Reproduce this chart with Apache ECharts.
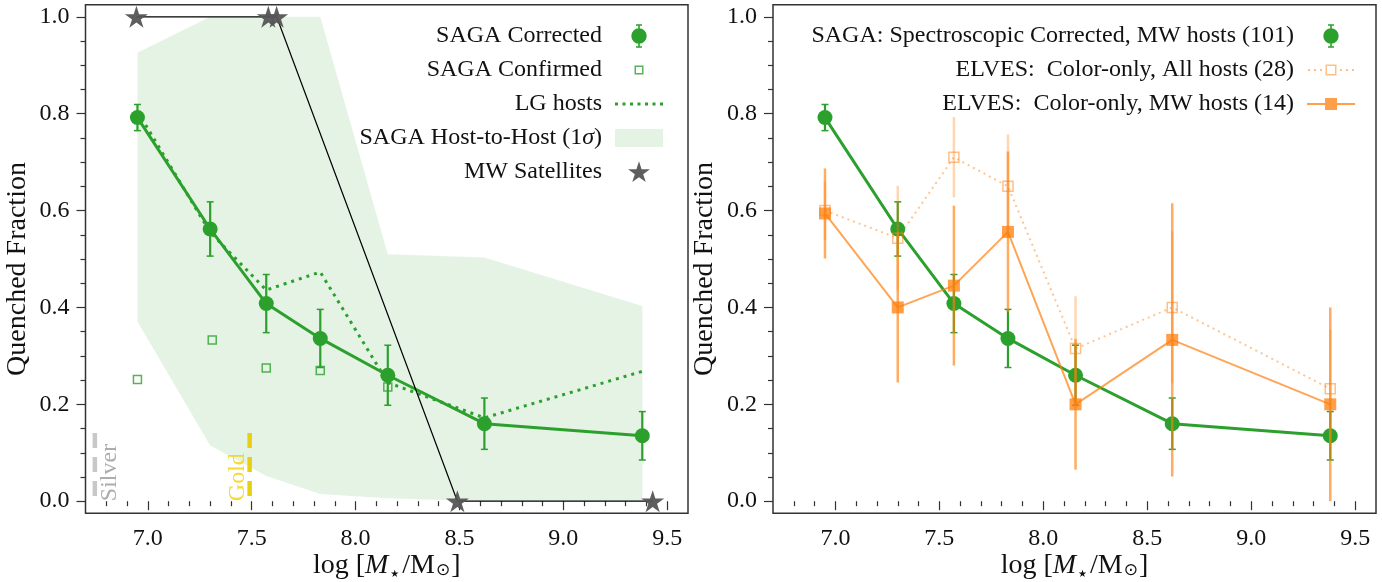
<!DOCTYPE html>
<html><head><meta charset="utf-8">
<script src="https://cdn.jsdelivr.net/npm/echarts@6/dist/echarts.min.js"></script>
<style>html,body{margin:0;padding:0;background:#fff;}#c{width:1382px;height:582px;}</style>
</head><body><div id="c"></div>
<script>
// ---------------- data ----------------
const massBins = [6.95, 7.30, 7.57, 7.83, 8.155, 8.62, 9.38];
const sagaCorrected = [0.792, 0.562, 0.408, 0.336, 0.260, 0.160, 0.135];
const sagaCorrectedErr = [0.027, 0.056, 0.060, 0.060, 0.062, 0.053, 0.050];
const sagaConfirmedX = [6.95, 7.31, 7.57, 7.83, 8.155];
const sagaConfirmed = [0.251, 0.333, 0.275, 0.270, 0.236];
const lgHosts = [0.805, 0.555, 0.436, 0.473, 0.245, 0.172, 0.268];
const bandUpper = [0.926, 1.0, 1.0, 1.0, 0.510, 0.503, 0.403];
const bandLower = [0.371, 0.115, 0.052, 0.015, 0.006, 0.0, 0.0];
const mwSatX = [6.945, 7.58, 7.62, 8.49, 9.43];
const mwSatY = [1, 1, 1, 0, 0];
const elvesAll = [0.600, 0.543, 0.710, 0.650, 0.315, 0.400, 0.232];
const elvesAllErr = [0.060, 0.108, 0.083, 0.107, 0.108, 0.157, 0.122];
const elvesMW = [0.594, 0.400, 0.445, 0.556, 0.200, 0.333, 0.200];
const elvesMWErr = [0.093, 0.155, 0.165, 0.166, 0.135, 0.282, 0.200];
const silverLimitX = 6.745, goldLimitX = 7.49, limitTop = 0.141;
const silverLabelX = 6.818, goldLabelX = 7.434;
const xTicks = [7.0, 7.5, 8.0, 8.5, 9.0, 9.5];
const xMinorTicks = [6.8, 6.9, 7.1, 7.2, 7.3, 7.4, 7.6, 7.7, 7.8, 7.9, 8.1, 8.2, 8.3, 8.4, 8.6, 8.7, 8.8, 8.9, 9.1, 9.2, 9.3, 9.4];
const yTicks = [0.0, 0.2, 0.4, 0.6, 0.8, 1.0];
const yMinorTicks = [0.05, 0.1, 0.15, 0.25, 0.3, 0.35, 0.45, 0.5, 0.55, 0.65, 0.7, 0.75, 0.85, 0.9, 0.95];

// ---------------- style ----------------
const FONT = '"Liberation Serif", "DejaVu Serif", serif';
const GREEN = '#2ca02c';
const ORANGE_MW = 'rgba(255,127,14,0.75)';
const ORANGE_MW_ERR = 'rgba(255,127,14,0.65)';
const ORANGE_ALL = 'rgba(255,127,14,0.5)';
const ORANGE_ALL_ERR = 'rgba(255,127,14,0.32)';
const BAND = 'rgba(44,160,44,0.12)';
const AX = '#333';
const TXT = '#111';
const STAR = 'path://M10,0 L12.245,6.909 L19.511,6.91 L13.633,11.18 L15.878,18.09 L10,13.82 L4.122,18.09 L6.367,11.18 L0.489,6.91 L7.755,6.909 Z';

const ICON_ERRCIRC = 'path://M0,0M48,24 M23.2,1L24.8,1L24.8,23L23.2,23Z M21,0.3L27,0.3L27,1.8L21,1.8Z M21,22.2L27,22.2L27,23.7L21,23.7Z M16.3,12A7.7,7.7,0,1,1,31.7,12A7.7,7.7,0,1,1,16.3,12Z';
const ICON_HOLLOW_SMALL = 'path://M0,0M48,24 M19.5,7.5L28.5,7.5L28.5,16.5L19.5,16.5Z M21,9L21,15L27,15L27,9Z';
const ICON_DOTS = 'path://M0,0M48,24 M0,10.5L3,10.5L3,13.5L0,13.5Z M7.5,10.5L10.5,10.5L10.5,13.5L7.5,13.5Z M15,10.5L18,10.5L18,13.5L15,13.5Z M22.5,10.5L25.5,10.5L25.5,13.5L22.5,13.5Z M30,10.5L33,10.5L33,13.5L30,13.5Z M37.5,10.5L40.5,10.5L40.5,13.5L37.5,13.5Z M45,10.5L48,10.5L48,13.5L45,13.5Z';
const ICON_BAND = 'path://M0,0M48,24 M0,3L48,3L48,21L0,21Z';
const ICON_STAR = 'path://M0,0M48,24 M24,1.3 L26.58,9.248 L34.937,9.246 L28.175,14.157 L30.76,22.104 L24,17.19 L17.24,22.104 L19.825,14.157 L13.063,9.246 L21.42,9.248 Z';
const ICON_ALL = 'path://M0,0M48,24 M1,11L3,11L3,13L1,13Z M7,11L9,11L9,13L7,13Z M13,11L15,11L15,13L13,13Z M33,11L35,11L35,13L33,13Z M39,11L41,11L41,13L39,13Z M45,11L47,11L47,13L45,13Z M18.5,6.5L29.5,6.5L29.5,17.5L18.5,17.5Z M20,8L20,16L28,16L28,8Z';
const ICON_MW = 'path://M0,0M48,24 M0,11L48,11L48,13L0,13Z M18,6L30,6L30,18L18,18Z';

function errRender(color, width, cap, capWidth) {
  return function (params, api) {
    const x = api.value(0), y = api.value(1), e = api.value(2);
    const top = api.coord([x, y + e]);
    const bot = api.coord([x, y - e]);
    const children = [{ type: 'line', shape: { x1: top[0], y1: top[1], x2: bot[0], y2: bot[1] }, style: { stroke: color, lineWidth: width } }];
    if (cap > 0) {
      children.push({ type: 'line', shape: { x1: top[0] - cap, y1: top[1], x2: top[0] + cap, y2: top[1] }, style: { stroke: color, lineWidth: capWidth } });
      children.push({ type: 'line', shape: { x1: bot[0] - cap, y1: bot[1], x2: bot[0] + cap, y2: bot[1] }, style: { stroke: color, lineWidth: capWidth } });
    }
    return { type: 'group', children: children };
  };
}
function errData(xs, ys, es) { return xs.map((x, i) => [x, ys[i], es[i]]); }
function pairs(xs, ys) { return xs.map((x, i) => [x, ys[i]]); }

const xName = 'log [{i|M}{st|★}/M{s|⊙}]';
const nameStyle = {
  fontFamily: FONT, fontSize: 28, color: TXT,
  rich: {
    i: { fontFamily: FONT, fontSize: 28, fontStyle: 'italic', color: TXT },
    st: { fontFamily: '"DejaVu Sans", sans-serif', fontSize: 10, color: TXT, verticalAlign: 'bottom', lineHeight: 14, padding: [0, 3, 0, 2] },
    s: { fontFamily: '"DejaVu Sans", sans-serif', fontSize: 17, color: TXT, verticalAlign: 'bottom', lineHeight: 20, padding: [0, 1, 0, 1] }
  }
};

function mkX(gi) {
  return [{
    type: 'value', gridIndex: gi, min: 6.7, max: 9.6, position: 'bottom',
    name: xName, nameLocation: 'middle', nameGap: 38, nameTextStyle: nameStyle, nameMoveOverlap: false,
    axisLine: { show: false }, splitLine: { show: false },
    axisTick: { show: true, inside: false, length: 9, customValues: xTicks, lineStyle: { color: AX, width: 1.2 } },
    axisLabel: { show: true, margin: 13, customValues: xTicks, formatter: v => v.toFixed(1), fontFamily: FONT, fontSize: 24, color: TXT }
  }, {
    type: 'value', gridIndex: gi, min: 6.7, max: 9.6, position: 'bottom',
    axisLine: { show: false }, splitLine: { show: false }, axisLabel: { show: false },
    axisTick: { show: true, inside: false, length: 5, customValues: xMinorTicks, lineStyle: { color: AX, width: 1.2 } }
  }];
}
function mkY(gi) {
  return [{
    type: 'value', gridIndex: gi, min: -0.025, max: 1.025, position: 'left',
    name: 'Quenched Fraction', nameLocation: 'middle', nameGap: 54, nameRotate: 90, nameMoveOverlap: false,
    nameTextStyle: { fontFamily: FONT, fontSize: 28, color: TXT, padding: [0, 20, 0, 0] },
    axisLine: { show: false }, splitLine: { show: false },
    axisTick: { show: true, inside: false, length: 9, customValues: yTicks, lineStyle: { color: AX, width: 1.2 } },
    axisLabel: { show: true, margin: 16, customValues: yTicks, formatter: v => v.toFixed(1), fontFamily: FONT, fontSize: 24, color: TXT }
  }, {
    type: 'value', gridIndex: gi, min: -0.025, max: 1.025, position: 'left',
    axisLine: { show: false }, splitLine: { show: false }, axisLabel: { show: false },
    axisTick: { show: true, inside: false, length: 5, customValues: yMinorTicks, lineStyle: { color: AX, width: 1.2 } }
  }];
}

const legendText = {
  fontFamily: FONT, fontSize: 24, color: TXT, padding: [0, 8, 0, 0],
  rich: { i: { fontFamily: FONT, fontSize: 24, fontStyle: 'italic', color: TXT } }
};

const chart = echarts.init(document.getElementById('c'), null, { renderer: 'canvas' });
chart.setOption({
  animation: false,
  backgroundColor: '#fff',
  grid: [
    { left: 85.5, top: 4.7, width: 602.5, height: 508.6, show: true, borderColor: AX, borderWidth: 1.5, backgroundColor: 'transparent', containLabel: false, outerBoundsMode: 'none' },
    { left: 773, top: 4.7, width: 603, height: 508.6, show: true, borderColor: AX, borderWidth: 1.5, backgroundColor: 'transparent', containLabel: false, outerBoundsMode: 'none' }
  ],
  xAxis: mkX(0).concat(mkX(1)),
  yAxis: mkY(0).concat(mkY(1)),
  legend: [
    {
      orient: 'vertical', align: 'right', right: 1382 - 663, top: 24, padding: 0,
      itemWidth: 48, itemHeight: 24, itemGap: 10, selectedMode: false, textStyle: legendText,
      formatter: n => n.replace('σ', '{i|σ}'),
      data: [
        { name: 'SAGA Corrected', icon: ICON_ERRCIRC, itemStyle: { color: GREEN, borderWidth: 0 } },
        { name: 'SAGA Confirmed', icon: ICON_HOLLOW_SMALL, itemStyle: { color: GREEN, borderWidth: 0 } },
        { name: 'LG hosts', icon: ICON_DOTS, itemStyle: { color: GREEN, borderWidth: 0 } },
        { name: 'SAGA Host-to-Host (1σ)', icon: ICON_BAND, itemStyle: { color: BAND, borderWidth: 0 } },
        { name: 'MW Satellites', icon: ICON_STAR, itemStyle: { color: '#555', borderWidth: 0 } }
      ]
    },
    {
      orient: 'vertical', align: 'right', right: 27, top: 24, padding: 0,
      itemWidth: 48, itemHeight: 24, itemGap: 10, selectedMode: false, textStyle: legendText,
      data: [
        { name: 'SAGA: Spectroscopic Corrected, MW hosts (101)', icon: ICON_ERRCIRC, itemStyle: { color: GREEN, borderWidth: 0 } },
        { name: 'ELVES:  Color-only, All hosts (28)', icon: ICON_ALL, itemStyle: { color: ORANGE_ALL, borderWidth: 0 } },
        { name: 'ELVES:  Color-only, MW hosts (14)', icon: ICON_MW, itemStyle: { color: ORANGE_MW, borderWidth: 0 } }
      ]
    }
  ],
  series: [
    // ---------- left panel ----------
    {
      name: 'SAGA Host-to-Host (1σ)', type: 'custom', xAxisIndex: 0, yAxisIndex: 0, z: 1,
      itemStyle: { color: BAND },
      data: [[massBins[0], bandLower[0]]],
      renderItem: function (params, api) {
        const pts = [];
        for (let i = 0; i < massBins.length; i++) pts.push(api.coord([massBins[i], bandUpper[i]]));
        for (let i = massBins.length - 1; i >= 0; i--) pts.push(api.coord([massBins[i], bandLower[i]]));
        return { type: 'polygon', shape: { points: pts }, style: { fill: BAND } };
      }
    },
    {
      name: 'silverLimit', type: 'line', xAxisIndex: 0, yAxisIndex: 0, z: 2, symbol: 'none',
      lineStyle: { color: '#c8c8c8', width: 4.5, type: [15, 9], cap: 'butt' },
      data: [[silverLimitX, limitTop], [silverLimitX, 0]]
    },
    {
      name: 'goldLimit', type: 'line', xAxisIndex: 0, yAxisIndex: 0, z: 2, symbol: 'none',
      lineStyle: { color: '#e9cf12', width: 4.5, type: [15, 9], cap: 'butt' },
      data: [[goldLimitX, limitTop], [goldLimitX, 0]]
    },
    {
      name: 'limitLabels', type: 'scatter', xAxisIndex: 0, yAxisIndex: 0, z: 2, symbolSize: 1,
      itemStyle: { color: 'rgba(0,0,0,0)' },
      data: [
        { value: [silverLabelX, 0], label: { formatter: 'Silver', color: '#999999' } },
        { value: [goldLabelX, 0], label: { formatter: 'Gold', color: '#f5d000' } }
      ],
      label: { show: true, position: 'inside', rotate: 90, align: 'left', verticalAlign: 'middle', fontFamily: FONT, fontSize: 24 }
    },
    {
      name: 'LG hosts', type: 'line', xAxisIndex: 0, yAxisIndex: 0, z: 3, symbol: 'none',
      lineStyle: { color: GREEN, width: 3, type: [3, 5], cap: 'butt' },
      data: pairs(massBins, lgHosts)
    },
    {
      name: '_sagaErrL', type: 'custom', xAxisIndex: 0, yAxisIndex: 0, z: 4,
      renderItem: errRender(GREEN, 2.2, 3.5, 1.5),
      data: errData(massBins, sagaCorrected, sagaCorrectedErr)
    },
    {
      name: 'SAGA Corrected', type: 'line', xAxisIndex: 0, yAxisIndex: 0, z: 4,
      symbol: 'circle', symbolSize: 15,
      itemStyle: { color: GREEN }, lineStyle: { color: GREEN, width: 3 },
      data: pairs(massBins, sagaCorrected)
    },
    {
      name: 'SAGA Confirmed', type: 'scatter', xAxisIndex: 0, yAxisIndex: 0, z: 5,
      symbol: 'rect', symbolSize: 8,
      itemStyle: { color: 'rgba(0,0,0,0)', borderColor: GREEN, borderWidth: 1.5 },
      data: pairs(sagaConfirmedX, sagaConfirmed)
    },
    {
      name: 'MW Satellites', type: 'line', xAxisIndex: 0, yAxisIndex: 0, z: 6,
      symbol: STAR, symbolSize: [23, 22], showSymbol: true,
      itemStyle: { color: '#555', opacity: 0.95 }, lineStyle: { color: '#000', width: 1.2 },
      data: pairs(mwSatX, mwSatY)
    },
    // ---------- right panel ----------
    {
      name: '_sagaErrR', type: 'custom', xAxisIndex: 2, yAxisIndex: 2, z: 3,
      renderItem: errRender(GREEN, 2.2, 3.5, 1.5),
      data: errData(massBins, sagaCorrected, sagaCorrectedErr)
    },
    {
      name: 'SAGA: Spectroscopic Corrected, MW hosts (101)', type: 'line', xAxisIndex: 2, yAxisIndex: 2, z: 3,
      symbol: 'circle', symbolSize: 15,
      itemStyle: { color: GREEN }, lineStyle: { color: GREEN, width: 3 },
      data: pairs(massBins, sagaCorrected)
    },
    {
      name: '_elvesAllErr', type: 'custom', xAxisIndex: 2, yAxisIndex: 2, z: 4,
      renderItem: errRender(ORANGE_ALL_ERR, 2.5, 0, 0),
      data: errData(massBins, elvesAll, elvesAllErr)
    },
    {
      name: 'ELVES:  Color-only, All hosts (28)', type: 'line', xAxisIndex: 2, yAxisIndex: 2, z: 4,
      symbol: 'rect', symbolSize: 10,
      itemStyle: { color: 'rgba(0,0,0,0)', borderColor: ORANGE_ALL, borderWidth: 1.5 },
      lineStyle: { color: 'rgba(255,127,14,0.45)', width: 2, type: [2, 4], cap: 'butt' },
      data: pairs(massBins, elvesAll)
    },
    {
      name: '_elvesMWErr', type: 'custom', xAxisIndex: 2, yAxisIndex: 2, z: 5,
      renderItem: errRender(ORANGE_MW_ERR, 2.5, 0, 0),
      data: errData(massBins, elvesMW, elvesMWErr)
    },
    {
      name: 'ELVES:  Color-only, MW hosts (14)', type: 'line', xAxisIndex: 2, yAxisIndex: 2, z: 5,
      symbol: 'rect', symbolSize: 12,
      itemStyle: { color: ORANGE_MW }, lineStyle: { color: 'rgba(255,127,14,0.7)', width: 2 },
      data: pairs(massBins, elvesMW)
    }
  ]
});
</script></body></html>
